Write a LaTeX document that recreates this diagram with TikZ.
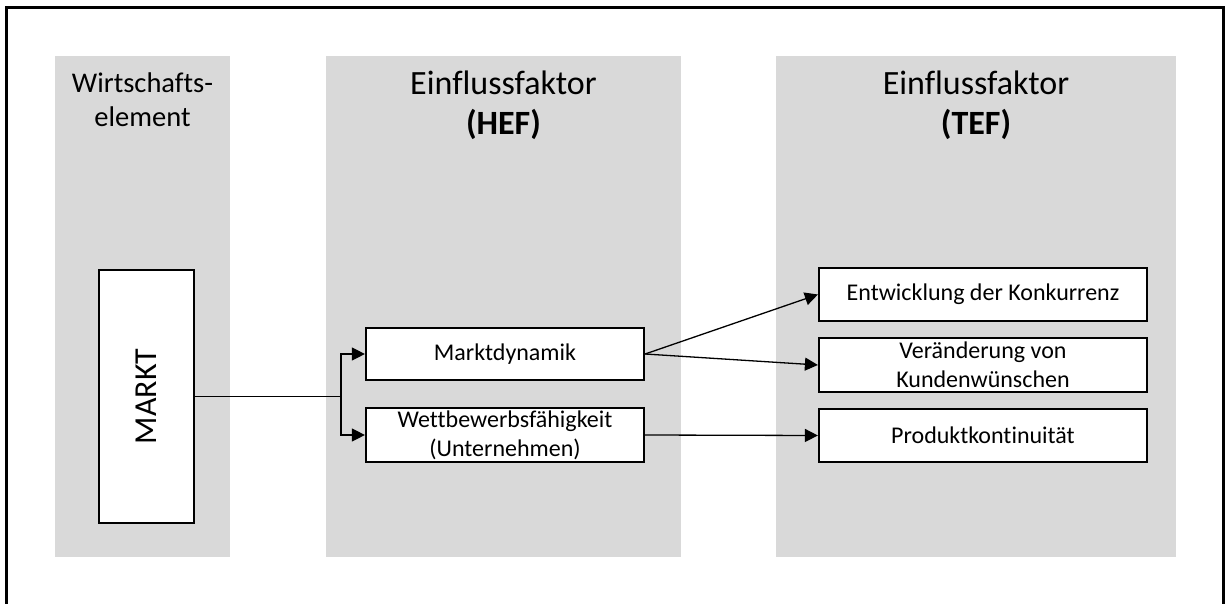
\documentclass[tikz,border=0pt]{standalone}
\usepackage{fontspec}
\setmainfont{Carlito}[Ligatures=NoCommon]
\usetikzlibrary{arrows.meta}
\definecolor{panelgray}{HTML}{D9D9D9}
\begin{document}
\begin{tikzpicture}[x=1pt,y=-1pt,
  panel/.style={fill=panelgray, draw=none},
  title/.style={anchor=base, inner sep=0pt, font=\fontsize{34}{40}\selectfont},
  box/.style={draw=black, line width=2.2pt, fill=white, inner sep=0pt,
    align=center, font=\fontsize{24}{29}\selectfont},
  link/.style={line width=1.3pt, -{Triangle[length=13pt,width=13pt]}},
  plain/.style={line width=1.3pt}
]
\useasboundingbox (0,0) rectangle (1226,604);
\clip (0,0) rectangle (1226,604);

% outer frame
\draw[line width=3pt] (6.5,7.5) rectangle (1223.5,640);

% column panels
\fill[panel] (55,56) rectangle (230,557);
\fill[panel] (326,56) rectangle (681,557);
\fill[panel] (776,56) rectangle (1176,557);

% column headings
\node[title, font=\fontsize{28.5}{34}\selectfont] (h1a) at (142.5,93) {Wirtschafts-};
\node[title, font=\fontsize{28.5}{34}\selectfont] (h1b) at (142.5,127) {element};
\node[title] (h2a) at (503.5,95) {Einflussfaktor};
\node[title, font=\fontsize{34}{40}\selectfont\bfseries] (h2b) at (503.5,135) {(HEF)};
\node[title] (h3a) at (976,95) {Einflussfaktor};
\node[title, font=\fontsize{34}{40}\selectfont\bfseries] (h3b) at (976,135) {(TEF)};

% boxes
\node[box, rotate=90, minimum width=253pt, minimum height=95pt,
      font=\fontsize{32}{38}\selectfont] (markt) at (146.5,396.5) {MARKT};
\node[box, minimum width=278pt, minimum height=52pt] (md) at (505,354) {Marktdynamik};
\node[box, minimum width=278pt, minimum height=54pt] (wf) at (505,435)
  {Wettbewerbsfähigkeit\\(Unternehmen)};
\node[box, minimum width=328pt, minimum height=53pt] (ek) at (983,294.5)
  {Entwicklung der Konkurrenz};
\node[box, minimum width=328pt, minimum height=54pt] (vk) at (983,365)
  {Veränderung von\\Kundenwünschen};
\node[box, minimum width=328pt, minimum height=53pt] (pk) at (983,435.5)
  {Produktkontinuität};

% connectors
\coordinate (split) at (341,396.5);
\draw[plain] (markt.south) -- (split);
\draw[link] (split) |- (md.west);
\draw[link] (split) |- (wf.west);
\draw[link] (md.east) -- (ek.west);
\draw[link] (md.east) -- (vk.west);
\draw[link] (wf.east) -- (pk.west);
\end{tikzpicture}
\end{document}
